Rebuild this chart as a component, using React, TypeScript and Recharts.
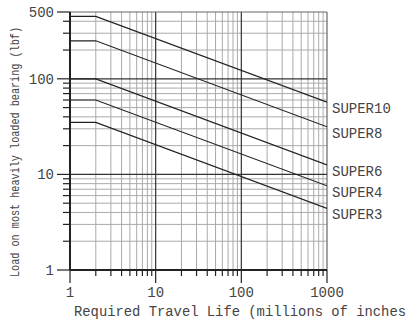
import React from 'react';
import { LineChart, Line, XAxis, YAxis, ReferenceLine } from 'recharts';

const lifeX = [1, 2, 1000];
const super10 = [450, 450, 57];
const super8 = [250, 250, 31.5];
const super6 = [100, 100, 12.6];
const super4 = [60, 60, 7.6];
const super3 = [35, 35, 4.4];
const seriesNames = ['SUPER10', 'SUPER8', 'SUPER6', 'SUPER4', 'SUPER3'];
const seriesValues = [super10, super8, super6, super4, super3];

const xMajor = [1, 10, 100, 1000];
const xMinor = [2, 3, 4, 5, 6, 7, 8, 9, 20, 30, 40, 50, 60, 70, 80, 90, 200, 300, 400, 500, 600, 700, 800, 900];
const yMajor = [1, 10, 100, 500];
const yMinor = [2, 3, 4, 5, 6, 7, 8, 9, 20, 30, 40, 50, 60, 70, 80, 90, 200, 300, 400];

const xLabel = 'Required Travel Life (millions of inches';
const yLabel = 'Load on most heavily loaded bearing (lbf)';

const data = lifeX.map((x, i) => {
  const row: any = { x };
  seriesNames.forEach((n, k) => (row[n] = seriesValues[k][i]));
  return row;
});

const FONT = '"Liberation Mono", "Courier New", monospace';
const TXT = '#444';

const XTick = (props: any) => {
  const { x, y, payload } = props;
  const v = payload.value;
  const major = xMajor.includes(v);
  return (
    <g>
      <line x1={x} x2={x} y1={y} y2={y + (major ? 13 : 6)} stroke="#222" strokeWidth={1.2} />
      {major && (
        <text x={x} y={y + 27} textAnchor="middle" fontFamily={FONT} fontSize={14} fill={TXT}>
          {v}
        </text>
      )}
    </g>
  );
};

const YTick = (props: any) => {
  const { x, y, payload } = props;
  const v = payload.value;
  const major = yMajor.includes(v);
  return (
    <g>
      <line x1={x} x2={x - (major ? 13 : 7)} y1={y} y2={y} stroke="#222" strokeWidth={1.2} />
      {major && (
        <text x={x - 16} y={y + 5} textAnchor="end" fontFamily={FONT} fontSize={14} fill={TXT}>
          {v}
        </text>
      )}
    </g>
  );
};

const makeLabel = (name: string) => (props: any) => {
  const { x, y, index } = props;
  if (index !== lifeX.length - 1) return null;
  return (
    <text x={x + 5} y={y + 11} textAnchor="start" fontFamily={FONT} fontSize={14} fill={TXT}>
      {name}
    </text>
  );
};

export default function App() {
  return (
    <div style={{ position: 'absolute', left: 0, top: 0, width: 408, height: 324, background: '#fff' }}>
      <LineChart width={408} height={324} data={data} margin={{ top: 12, right: 81, bottom: 0, left: 0 }}>
        <XAxis
          dataKey="x"
          type="number"
          scale="log"
          domain={[1, 1000]}
          allowDataOverflow
          ticks={[...xMajor, ...xMinor].sort((a, b) => a - b)}
          interval={0}
          height={54}
          tickSize={0}
          tickMargin={0}
          tick={<XTick />}
          axisLine={{ stroke: '#222', strokeWidth: 2 }}
          tickLine={false}
        />
        <YAxis
          type="number"
          scale="log"
          domain={[1, 500]}
          allowDataOverflow
          ticks={[...yMajor, ...yMinor].sort((a, b) => a - b)}
          interval={0}
          width={70}
          tickSize={0}
          tickMargin={0}
          tick={<YTick />}
          axisLine={{ stroke: '#222', strokeWidth: 2 }}
          tickLine={false}
        />
        {xMinor.map((v) => (
          <ReferenceLine key={'xm' + v} x={v} stroke="#aaa" strokeWidth={1} />
        ))}
        {yMinor.map((v) => (
          <ReferenceLine key={'ym' + v} y={v} stroke="#aaa" strokeWidth={1} />
        ))}
        <ReferenceLine x={10} stroke="#333" strokeWidth={1.2} />
        <ReferenceLine x={100} stroke="#333" strokeWidth={1.2} />
        <ReferenceLine x={1000} stroke="#666" strokeWidth={1.2} />
        <ReferenceLine y={10} stroke="#333" strokeWidth={1.2} />
        <ReferenceLine y={100} stroke="#333" strokeWidth={1.2} />
        <ReferenceLine y={500} stroke="#666" strokeWidth={1.2} />
        {seriesNames.map((n) => (
          <Line
            key={n}
            dataKey={n}
            stroke="#222"
            strokeWidth={1.2}
            dot={false}
            isAnimationActive={false}
            label={makeLabel(n)}
          />
        ))}
        <text x={74} y={316} fontFamily={FONT} fontSize={14} fill={TXT} textLength={332} lengthAdjust="spacingAndGlyphs">
          {xLabel}
        </text>
        <text
          x={0}
          y={0}
          transform="translate(19,152) rotate(-90)"
          textAnchor="middle"
          fontFamily={FONT}
          fontSize={13}
          fill={TXT}
          textLength={250}
          lengthAdjust="spacingAndGlyphs"
        >
          {yLabel}
        </text>
      </LineChart>
    </div>
  );
}
